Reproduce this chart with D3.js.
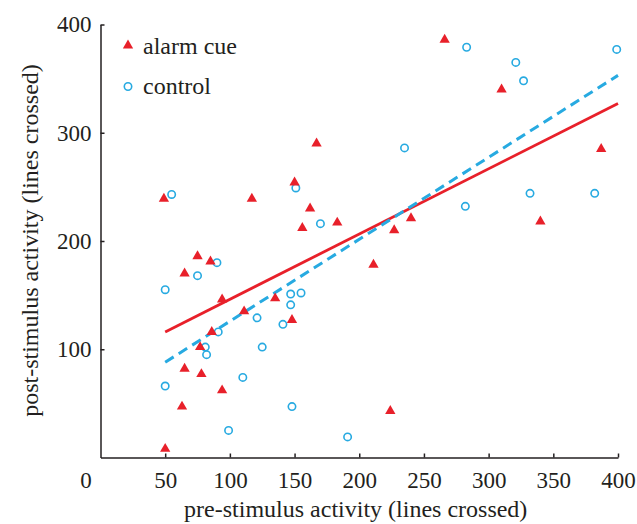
<!DOCTYPE html>
<html>
<head>
<meta charset="utf-8">
<script src="https://cdn.jsdelivr.net/npm/d3@7"></script>
<style>
  body { margin: 0; background: #fff; }
  text { font-family: "Liberation Serif", "Times New Roman", serif; fill: #231f20; }
</style>
</head>
<body>
<div id="chart"></div>
<script>
// alarm cue group: [pre, post]
var alarmPre  = [50, 49, 63, 65, 65, 75, 78, 77, 85, 86, 94, 94, 111, 117, 135, 148, 150, 156, 162, 167, 183, 211, 227, 240, 224, 266, 310, 340, 387];
var alarmPost = [8, 239, 47, 82, 170, 186, 77, 102, 181, 116, 62, 146, 135, 239, 147, 127, 254, 212, 230, 290, 217, 178, 210, 221, 43, 386, 340, 218, 285];

// control group: [pre, post]
var controlPre  = [55, 151, 90, 75, 50, 147, 155, 147, 91, 81, 82, 121, 141, 125, 110, 50, 148, 99, 170, 235, 191, 282, 332, 382, 283, 321, 327, 399];
var controlPost = [243, 249, 180, 168, 155, 151, 152, 141, 116, 102, 95, 129, 123, 102, 74, 66, 47, 25, 216, 286, 19, 232, 244, 244, 379, 365, 348, 377];

// fitted lines: x, y at both ends
var alarmFitX = [50, 400], alarmFitY = [116, 327];
var controlFitX = [50, 400], controlFitY = [88, 353];

var xTicks = [50, 100, 150, 200, 250, 300, 350, 400];
var yTicks = [100, 200, 300, 400];

var red = "#e8202a", blue = "#27aae1", ink = "#231f20";

var margin = {top: 24.5, right: 19, bottom: 66.5, left: 100.5};
var width = 637 - margin.left - margin.right,
    height = 524 - margin.top - margin.bottom;

var x = d3.scaleLinear().domain([0, 400]).range([0, width]);
var y = d3.scaleLinear().domain([0, 400]).range([height, 0]);

var svg = d3.select("#chart").append("svg")
    .attr("width", 637)
    .attr("height", 524)
  .append("g")
    .attr("transform", "translate(" + margin.left + "," + margin.top + ")");

// axes, ticks pointing inward
var xAxis = svg.append("g")
    .attr("transform", "translate(0," + height + ")")
    .call(d3.axisBottom(x).tickValues(xTicks).tickSize(-4).tickSizeOuter(0).tickPadding(14));
var yAxis = svg.append("g")
    .call(d3.axisLeft(y).tickValues(yTicks).tickSize(-4).tickSizeOuter(0).tickPadding(9));

[xAxis, yAxis].forEach(function(a) {
  a.selectAll("path, line").attr("stroke", ink).attr("stroke-width", 1.5);
  a.selectAll("text").style("font-size", "23px").attr("fill", ink)
    .style("font-family", "'Liberation Serif', 'Times New Roman', serif");
});

// origin label
svg.append("text")
    .attr("x", -14.5)
    .attr("y", height + 30.5)
    .attr("text-anchor", "middle")
    .style("font-size", "23px")
    .text("0");

// fit lines
var line = d3.line()
    .x(function(d) { return x(d[0]); })
    .y(function(d) { return y(d[1]); });

svg.append("path")
    .datum(d3.zip(alarmFitX, alarmFitY))
    .attr("d", line)
    .attr("fill", "none")
    .attr("stroke", red)
    .attr("stroke-width", 2.8);

svg.append("path")
    .datum(d3.zip(controlFitX, controlFitY))
    .attr("d", line)
    .attr("fill", "none")
    .attr("stroke", blue)
    .attr("stroke-width", 3)
    .attr("stroke-dasharray", "10,6");

// points
var tri = d3.symbol().type(d3.symbolTriangle).size(46);

svg.append("g").selectAll("circle")
    .data(d3.zip(controlPre, controlPost))
    .join("circle")
    .attr("cx", function(d) { return x(d[0]); })
    .attr("cy", function(d) { return y(d[1]); })
    .attr("r", 3.7)
    .attr("fill", "none")
    .attr("stroke", blue)
    .attr("stroke-width", 1.6);

svg.append("g").selectAll("path")
    .data(d3.zip(alarmPre, alarmPost))
    .join("path")
    .attr("d", tri)
    .attr("transform", function(d) { return "translate(" + x(d[0]) + "," + y(d[1]) + ")"; })
    .attr("fill", red);

// legend
var legend = svg.append("g").attr("transform", "translate(27.5, 21)");
legend.append("path").attr("d", tri).attr("fill", red);
legend.append("text").attr("x", 15).attr("y", 8).style("font-size", "24px").text("alarm cue");
legend.append("circle").attr("cy", 41).attr("r", 3.7).attr("fill", "none")
    .attr("stroke", blue).attr("stroke-width", 1.6);
legend.append("text").attr("x", 15).attr("y", 48.5).style("font-size", "24px").text("control");

// axis titles
svg.append("text")
    .attr("x", width / 2 - 3.5)
    .attr("y", height + 59.5)
    .attr("text-anchor", "middle")
    .style("font-size", "24px")
    .text("pre-stimulus activity (lines crossed)");

svg.append("text")
    .attr("transform", "rotate(-90)")
    .attr("x", 0 - 216)
    .attr("y", -63)
    .attr("text-anchor", "middle")
    .style("font-size", "24px")
    .text("post-stimulus activity (lines crossed)");
</script>
</body>
</html>
